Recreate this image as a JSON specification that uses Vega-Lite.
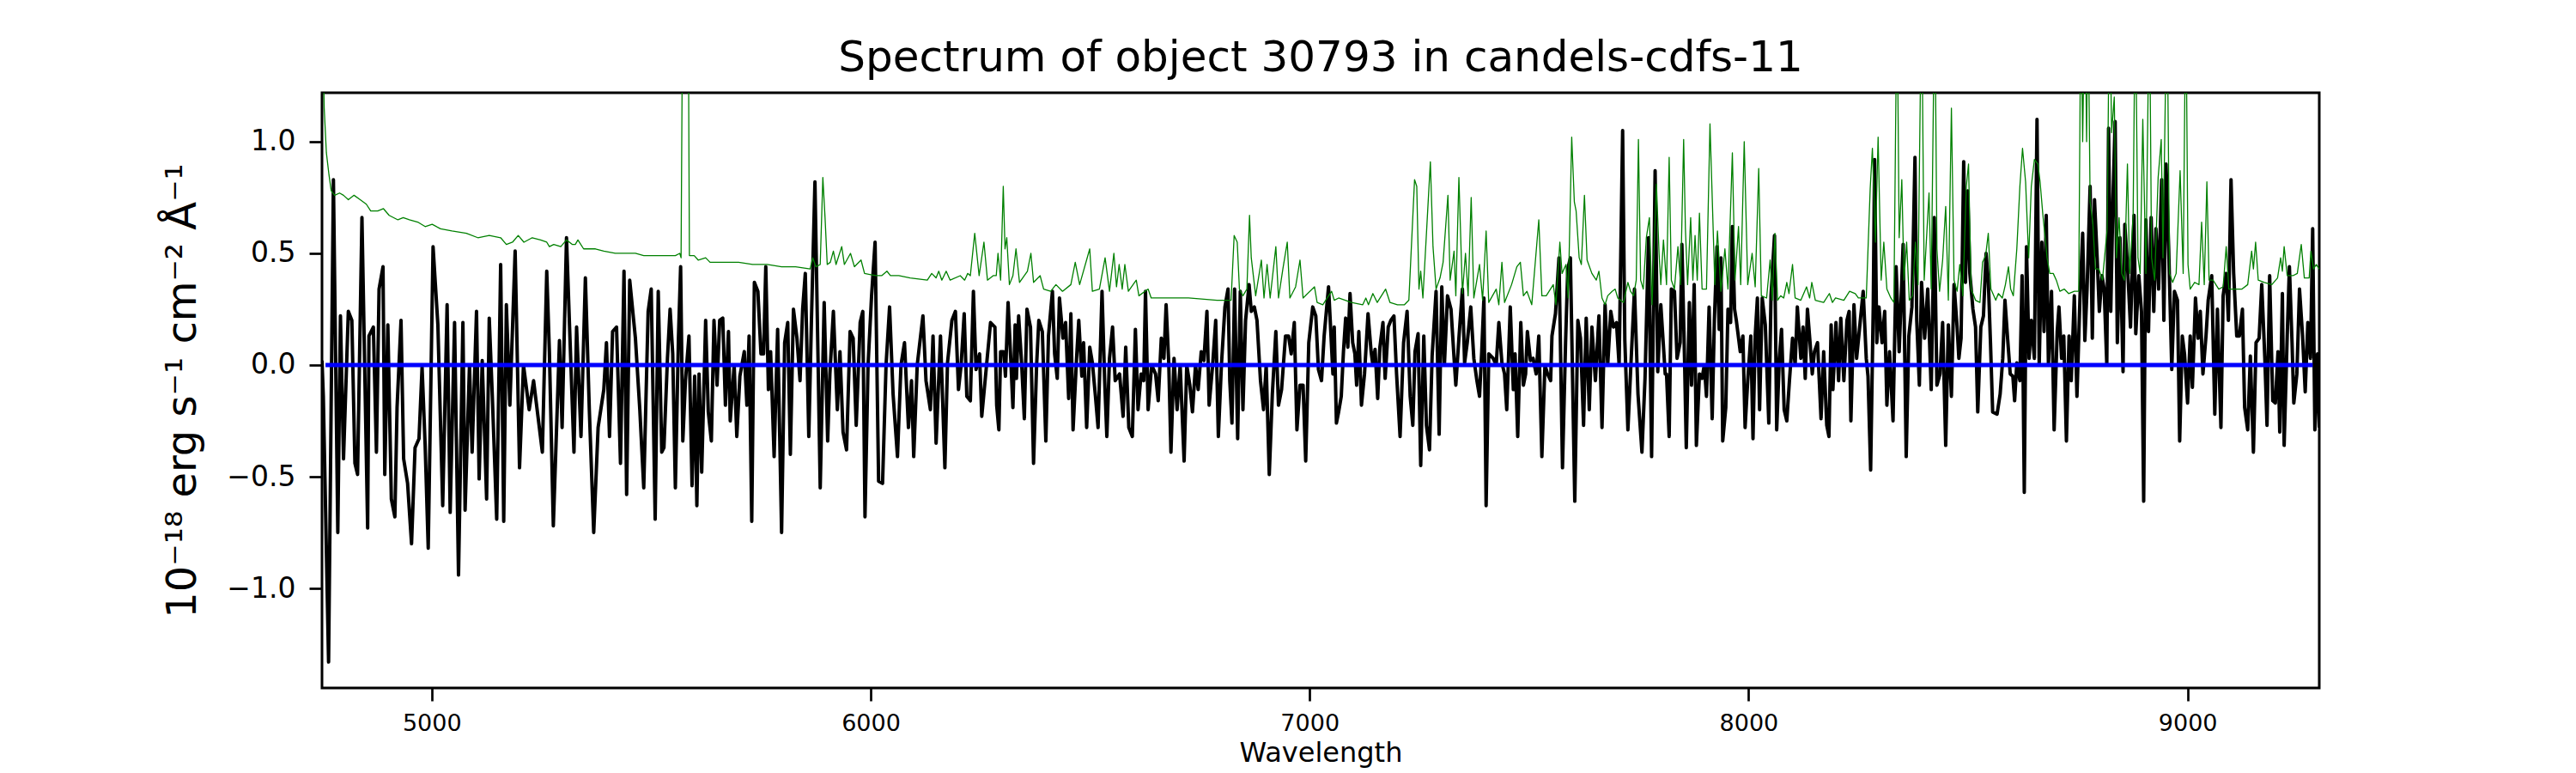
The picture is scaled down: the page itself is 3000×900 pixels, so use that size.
{
  "$schema": "https://vega.github.io/schema/vega-lite/v6.json",
  "width": 2326,
  "height": 693,
  "autosize": {"type": "none"},
  "padding": {"left": 375, "top": 108, "right": 299, "bottom": 99},
  "background": "white",
  "title": {
    "text": "Spectrum of object 30793 in candels-cdfs-11",
    "font": "DejaVu Sans",
    "fontSize": 50,
    "fontWeight": "normal",
    "color": "black",
    "anchor": "middle",
    "offset": 15
  },
  "config": {
    "view": {"stroke": "black", "strokeWidth": 3},
    "axis": {
      "grid": false,
      "domain": false,
      "labelFont": "DejaVu Sans",
      "titleFont": "DejaVu Sans",
      "labelColor": "black",
      "titleColor": "black",
      "tickColor": "black",
      "tickWidth": 2.7,
      "tickSize": 15,
      "titleFontWeight": "normal",
      "labelOverlap": false
    }
  },
  "datasets": {
    "flux": [
      {"w":4750,"v":0.02},{"w":4753,"v":-0.14},{"w":4765,"v":-1.33},{"w":4776,"v":0.83},{"w":4786,"v":-0.75},{"w":4792,"v":0.22},{"w":4799,"v":-0.42},{"w":4810,"v":0.24},{"w":4818,"v":0.20},{"w":4825,"v":-0.44},{"w":4831,"v":-0.49},{"w":4841,"v":0.66},{"w":4854,"v":-0.73},{"w":4857,"v":0.13},{"w":4867,"v":0.17},{"w":4874,"v":-0.39},{"w":4880,"v":0.34},{"w":4889,"v":0.44},{"w":4893,"v":-0.49},{"w":4900,"v":0.18},{"w":4908,"v":-0.60},{"w":4916,"v":-0.68},{"w":4921,"v":-0.19},{"w":4930,"v":0.20},{"w":4936,"v":-0.42},{"w":4945,"v":-0.53},{"w":4954,"v":-0.80},{"w":4962,"v":-0.37},{"w":4971,"v":-0.33},{"w":4978,"v":-0.01},{"w":4985,"v":-0.36},{"w":4992,"v":-0.82},{"w":5003,"v":0.53},{"w":5014,"v":0.18},{"w":5025,"v":-0.63},{"w":5035,"v":0.27},{"w":5042,"v":-0.66},{"w":5052,"v":0.19},{"w":5061,"v":-0.94},{"w":5071,"v":0.19},{"w":5076,"v":-0.65},{"w":5086,"v":0.00},{"w":5092,"v":-0.39},{"w":5102,"v":0.24},{"w":5108,"v":-0.51},{"w":5115,"v":0.02},{"w":5125,"v":-0.60},{"w":5131,"v":0.21},{"w":5138,"v":-0.14},{"w":5148,"v":-0.69},{"w":5157,"v":0.45},{"w":5164,"v":-0.70},{"w":5170,"v":0.27},{"w":5178,"v":-0.18},{"w":5190,"v":0.51},{"w":5200,"v":-0.46},{"w":5209,"v":0.00},{"w":5222,"v":-0.20},{"w":5232,"v":-0.07},{"w":5242,"v":-0.23},{"w":5252,"v":-0.39},{"w":5262,"v":0.42},{"w":5268,"v":0.06},{"w":5277,"v":-0.72},{"w":5291,"v":0.11},{"w":5297,"v":-0.28},{"w":5307,"v":0.57},{"w":5314,"v":0.17},{"w":5324,"v":-0.39},{"w":5330,"v":0.17},{"w":5340,"v":-0.32},{"w":5350,"v":0.39},{"w":5359,"v":-0.20},{"w":5369,"v":-0.75},{"w":5379,"v":-0.28},{"w":5392,"v":-0.11},{"w":5398,"v":0.10},{"w":5405,"v":-0.32},{"w":5412,"v":0.15},{"w":5421,"v":0.17},{"w":5430,"v":-0.44},{"w":5438,"v":0.42},{"w":5444,"v":-0.58},{"w":5451,"v":0.38},{"w":5464,"v":0.12},{"w":5474,"v":-0.20},{"w":5483,"v":-0.55},{"w":5493,"v":0.24},{"w":5500,"v":0.34},{"w":5509,"v":-0.69},{"w":5516,"v":0.33},
      {"w":5524,"v":-0.39},{"w":5529,"v":-0.37},{"w":5537,"v":0.03},{"w":5543,"v":0.25},{"w":5549,"v":0.05},{"w":5555,"v":-0.55},{"w":5562,"v":0.12},{"w":5567,"v":0.44},{"w":5572,"v":-0.34},{"w":5578,"v":-0.07},{"w":5586,"v":0.13},{"w":5593,"v":-0.54},{"w":5599,"v":-0.05},{"w":5604,"v":-0.63},{"w":5609,"v":-0.04},{"w":5615,"v":-0.48},{"w":5624,"v":0.20},{"w":5630,"v":-0.21},{"w":5637,"v":-0.34},{"w":5643,"v":0.20},{"w":5650,"v":-0.09},{"w":5656,"v":0.20},{"w":5663,"v":0.21},{"w":5669,"v":-0.18},{"w":5676,"v":0.15},{"w":5680,"v":-0.25},{"w":5689,"v":0.00},{"w":5695,"v":-0.32},{"w":5702,"v":-0.05},{"w":5712,"v":0.06},{"w":5718,"v":-0.18},{"w":5723,"v":0.13},{"w":5729,"v":-0.70},{"w":5735,"v":0.37},{"w":5743,"v":0.33},{"w":5750,"v":0.05},{"w":5756,"v":0.05},{"w":5761,"v":0.44},{"w":5767,"v":-0.11},{"w":5772,"v":0.06},{"w":5780,"v":-0.41},{"w":5788,"v":0.16},{"w":5797,"v":-0.75},{"w":5804,"v":0.10},{"w":5811,"v":0.19},{"w":5817,"v":-0.40},{"w":5824,"v":0.25},{"w":5832,"v":0.12},{"w":5839,"v":-0.07},{"w":5845,"v":0.25},{"w":5851,"v":0.41},{"w":5859,"v":-0.32},{"w":5865,"v":0.20},{"w":5873,"v":0.82},{"w":5880,"v":0.03},{"w":5885,"v":-0.55},{"w":5894,"v":0.28},{"w":5902,"v":-0.34},{"w":5907,"v":-0.04},{"w":5915,"v":0.24},{"w":5924,"v":-0.20},{"w":5930,"v":0.06},{"w":5937,"v":-0.30},{"w":5945,"v":-0.38},{"w":5953,"v":0.15},{"w":5960,"v":0.12},{"w":5967,"v":-0.27},{"w":5976,"v":0.19},{"w":5982,"v":0.24},{"w":5987,"v":-0.68},{"w":5994,"v":0.00},{"w":6002,"v":0.31},{"w":6010,"v":0.55},{"w":6018,"v":-0.52},{"w":6027,"v":-0.53},{"w":6035,"v":0.00},{"w":6043,"v":0.26},{"w":6051,"v":-0.13},{"w":6061,"v":-0.41},{"w":6069,"v":0.00},{"w":6077,"v":0.10},{"w":6086,"v":-0.28},{"w":6093,"v":-0.07},{"w":6098,"v":-0.41},{"w":6106,"v":0.00},{"w":6119,"v":0.22},{"w":6126,"v":-0.07},{"w":6136,"v":-0.20},{"w":6142,"v":0.13},{"w":6149,"v":-0.35},{"w":6159,"v":0.13},{"w":6169,"v":-0.46},{"w":6175,"v":0.01},{"w":6185,"v":0.20},{"w":6193,"v":0.24},{"w":6200,"v":-0.11},{"w":6206,"v":0.00},{"w":6213,"v":0.23},{"w":6219,"v":-0.14},{"w":6227,"v":-0.16},{"w":6234,"v":0.33},{"w":6240,"v":-0.02},{"w":6248,"v":0.05},{"w":6253,"v":-0.23},{"w":6263,"v":-0.02},{"w":6273,"v":0.19},{"w":6283,"v":0.17},
      {"w":6287,"v":-0.18},{"w":6292,"v":-0.29},{"w":6296,"v":0.06},{"w":6303,"v":0.06},{"w":6307,"v":-0.05},{"w":6313,"v":0.28},{"w":6319,"v":0.03},{"w":6324,"v":-0.19},{"w":6329,"v":0.18},{"w":6332,"v":-0.06},{"w":6337,"v":0.22},{"w":6344,"v":0.00},{"w":6350,"v":-0.24},{"w":6356,"v":0.25},{"w":6364,"v":0.17},{"w":6371,"v":-0.44},{"w":6378,"v":0.00},{"w":6383,"v":0.20},{"w":6391,"v":0.15},{"w":6399,"v":-0.34},{"w":6405,"v":0.13},{"w":6414,"v":0.33},{"w":6419,"v":0.05},{"w":6425,"v":-0.06},{"w":6430,"v":0.30},{"w":6438,"v":0.12},{"w":6444,"v":0.19},{"w":6451,"v":-0.15},{"w":6456,"v":0.23},{"w":6461,"v":-0.29},{"w":6469,"v":0.03},{"w":6474,"v":0.20},{"w":6481,"v":-0.05},{"w":6485,"v":0.10},{"w":6492,"v":-0.28},{"w":6499,"v":0.08},{"w":6505,"v":0.01},{"w":6512,"v":-0.14},{"w":6518,"v":-0.28},{"w":6527,"v":0.33},{"w":6533,"v":-0.07},{"w":6538,"v":-0.32},{"w":6544,"v":0.03},{"w":6551,"v":0.17},{"w":6557,"v":-0.07},{"w":6567,"v":-0.04},{"w":6575,"v":-0.23},{"w":6581,"v":0.08},{"w":6588,"v":-0.28},{"w":6596,"v":-0.32},{"w":6603,"v":0.16},{"w":6609,"v":-0.20},{"w":6616,"v":-0.04},{"w":6622,"v":-0.07},{"w":6626,"v":0.33},{"w":6632,"v":-0.20},{"w":6640,"v":0.00},{"w":6649,"v":-0.04},{"w":6655,"v":-0.16},{"w":6662,"v":0.12},{"w":6668,"v":0.03},{"w":6673,"v":0.27},{"w":6679,"v":0.01},{"w":6684,"v":-0.39},{"w":6691,"v":0.03},{"w":6698,"v":-0.20},{"w":6705,"v":0.00},{"w":6714,"v":-0.43},{"w":6720,"v":0.00},{"w":6727,"v":-0.09},{"w":6733,"v":-0.21},{"w":6740,"v":0.00},{"w":6746,"v":-0.11},{"w":6753,"v":0.06},{"w":6759,"v":0.02},{"w":6766,"v":0.24},{"w":6771,"v":-0.18},{"w":6779,"v":0.00},{"w":6786,"v":0.20},{"w":6792,"v":-0.32},{"w":6799,"v":0.00},{"w":6807,"v":0.26},{"w":6814,"v":0.34},{"w":6818,"v":-0.07},{"w":6823,"v":-0.26},{"w":6829,"v":0.34},{"w":6836,"v":-0.33},{"w":6842,"v":0.33},{"w":6848,"v":-0.20},{"w":6854,"v":0.20},{"w":6862,"v":0.36},{"w":6867,"v":0.24},{"w":6874,"v":0.26},{"w":6880,"v":0.20},{"w":6888,"v":-0.07},{"w":6895,"v":-0.20},{"w":6901,"v":0.00},{"w":6908,"v":-0.49},{"w":6915,"v":-0.13},{"w":6923,"v":0.15},{"w":6929,"v":-0.18},{"w":6936,"v":-0.11},{"w":6945,"v":0.13},{"w":6952,"v":0.13},{"w":6958,"v":0.05},{"w":6965,"v":0.19},{"w":6971,"v":-0.29},{"w":6978,"v":-0.09},{"w":6985,"v":-0.09},{"w":6991,"v":-0.43},{"w":6998,"v":0.10},{"w":7007,"v":0.26},{"w":7014,"v":0.22},{"w":7020,"v":-0.02},{"w":7027,"v":-0.07},{"w":7033,"v":0.13},{"w":7043,"v":0.35},
      {"w":7053,"v":-0.04},{"w":7056,"v":0.17},{"w":7061,"v":-0.26},{"w":7066,"v":-0.21},{"w":7072,"v":-0.14},{"w":7077,"v":0.06},{"w":7082,"v":0.21},{"w":7087,"v":0.08},{"w":7092,"v":0.32},{"w":7098,"v":0.10},{"w":7103,"v":0.05},{"w":7107,"v":-0.09},{"w":7112,"v":0.15},{"w":7118,"v":-0.18},{"w":7125,"v":-0.04},{"w":7133,"v":0.23},{"w":7140,"v":0.06},{"w":7144,"v":0.00},{"w":7149,"v":0.07},{"w":7155,"v":-0.15},{"w":7160,"v":0.08},{"w":7167,"v":0.19},{"w":7172,"v":-0.06},{"w":7179,"v":0.17},{"w":7185,"v":0.20},{"w":7192,"v":0.22},{"w":7198,"v":-0.04},{"w":7206,"v":-0.32},{"w":7214,"v":0.10},{"w":7222,"v":0.24},{"w":7229,"v":-0.14},{"w":7235,"v":-0.27},{"w":7240,"v":0.06},{"w":7247,"v":0.14},{"w":7253,"v":-0.45},{"w":7260,"v":0.13},{"w":7266,"v":-0.27},{"w":7273,"v":-0.38},{"w":7279,"v":0.04},{"w":7288,"v":0.33},{"w":7295,"v":-0.31},{"w":7301,"v":0.35},{"w":7307,"v":0.00},{"w":7314,"v":0.31},{"w":7322,"v":0.25},{"w":7329,"v":0.03},{"w":7333,"v":-0.09},{"w":7340,"v":0.12},{"w":7348,"v":0.34},{"w":7353,"v":0.01},{"w":7359,"v":0.10},{"w":7367,"v":0.26},{"w":7374,"v":0.03},{"w":7381,"v":-0.07},{"w":7387,"v":-0.14},{"w":7392,"v":0.06},{"w":7397,"v":0.30},{"w":7402,"v":-0.63},{"w":7408,"v":0.05},{"w":7418,"v":0.03},{"w":7425,"v":0.00},{"w":7431,"v":0.19},{"w":7438,"v":0.01},{"w":7444,"v":-0.04},{"w":7449,"v":-0.20},{"w":7457,"v":0.26},{"w":7464,"v":-0.11},{"w":7468,"v":0.05},{"w":7474,"v":-0.32},{"w":7481,"v":0.19},{"w":7487,"v":-0.09},{"w":7492,"v":-0.04},{"w":7496,"v":0.15},{"w":7503,"v":0.02},{"w":7509,"v":0.03},{"w":7516,"v":-0.04},{"w":7522,"v":0.13},{"w":7529,"v":-0.41},{"w":7536,"v":0.00},{"w":7542,"v":-0.04},{"w":7549,"v":-0.07},{"w":7552,"v":0.13},{"w":7560,"v":0.23},{"w":7568,"v":0.48},{"w":7576,"v":-0.46},{"w":7583,"v":0.10},{"w":7588,"v":0.43},{"w":7594,"v":0.48},{"w":7604,"v":-0.61},{"w":7611,"v":0.20},{"w":7617,"v":0.12},{"w":7624,"v":-0.27},{"w":7630,"v":0.21},{"w":7637,"v":-0.20},{"w":7643,"v":0.17},{"w":7651,"v":-0.07},{"w":7659,"v":0.22},{"w":7666,"v":-0.28},{"w":7673,"v":0.27},{"w":7679,"v":0.00},{"w":7686,"v":0.24},{"w":7692,"v":0.17},{"w":7699,"v":0.19},{"w":7705,"v":0.00},{"w":7713,"v":1.05},{"w":7718,"v":0.11},{"w":7725,"v":-0.29},{"w":7733,"v":0.05},{"w":7740,"v":0.34},{"w":7748,"v":-0.13},{"w":7757,"v":-0.39},{"w":7764,"v":-0.06},{"w":7772,"v":0.57},{"w":7779,"v":-0.41},{"w":7787,"v":0.87},{"w":7793,"v":-0.03},{"w":7800,"v":0.27},{"w":7810,"v":-0.04},
      {"w":7813,"v":-0.04},{"w":7819,"v":-0.32},{"w":7824,"v":0.34},{"w":7831,"v":0.33},{"w":7837,"v":0.03},{"w":7844,"v":0.10},{"w":7848,"v":0.54},{"w":7854,"v":0.03},{"w":7858,"v":-0.37},{"w":7865,"v":0.28},{"w":7870,"v":-0.09},{"w":7876,"v":0.36},{"w":7881,"v":-0.36},{"w":7888,"v":-0.04},{"w":7894,"v":-0.06},{"w":7899,"v":0.00},{"w":7904,"v":-0.14},{"w":7910,"v":0.26},{"w":7917,"v":-0.24},{"w":7922,"v":0.20},{"w":7928,"v":0.53},{"w":7933,"v":0.16},{"w":7937,"v":0.48},{"w":7941,"v":-0.34},{"w":7948,"v":-0.19},{"w":7953,"v":0.25},{"w":7959,"v":0.19},{"w":7963,"v":0.62},{"w":7968,"v":0.25},{"w":7972,"v":0.20},{"w":7981,"v":0.06},{"w":7987,"v":0.13},{"w":7992,"v":-0.28},{"w":7998,"v":-0.07},{"w":8005,"v":0.13},{"w":8010,"v":-0.33},{"w":8015,"v":0.13},{"w":8020,"v":0.30},{"w":8025,"v":-0.20},{"w":8031,"v":0.30},{"w":8038,"v":0.18},{"w":8046,"v":-0.26},{"w":8051,"v":0.31},{"w":8059,"v":0.58},{"w":8064,"v":-0.29},{"w":8070,"v":0.03},{"w":8075,"v":0.16},{"w":8081,"v":-0.20},{"w":8087,"v":-0.25},{"w":8093,"v":-0.07},{"w":8100,"v":0.12},{"w":8106,"v":0.00},{"w":8111,"v":0.26},{"w":8119,"v":0.03},{"w":8124,"v":0.17},{"w":8129,"v":-0.06},{"w":8134,"v":0.25},{"w":8140,"v":0.10},{"w":8145,"v":-0.04},{"w":8150,"v":0.06},{"w":8157,"v":0.10},{"w":8165,"v":-0.24},{"w":8171,"v":0.06},{"w":8178,"v":-0.27},{"w":8183,"v":-0.32},{"w":8188,"v":0.18},{"w":8192,"v":-0.11},{"w":8199,"v":0.19},{"w":8205,"v":-0.07},{"w":8210,"v":0.21},{"w":8217,"v":-0.07},{"w":8224,"v":0.20},{"w":8229,"v":0.24},{"w":8233,"v":-0.25},{"w":8240,"v":0.27},{"w":8246,"v":0.03},{"w":8253,"v":0.17},{"w":8261,"v":0.33},{"w":8268,"v":0.03},{"w":8272,"v":-0.05},{"w":8278,"v":-0.47},{"w":8284,"v":0.27},{"w":8287,"v":0.92},{"w":8292,"v":0.10},{"w":8297,"v":0.26},{"w":8304,"v":0.10},{"w":8310,"v":0.24},{"w":8315,"v":-0.18},{"w":8321,"v":0.06},{"w":8329,"v":-0.25},{"w":8336,"v":0.44},{"w":8343,"v":0.06},{"w":8352,"v":0.54},{"w":8359,"v":-0.41},{"w":8365,"v":0.13},{"w":8372,"v":0.26},{"w":8379,"v":0.93},{"w":8383,"v":0.20},{"w":8389,"v":-0.09},{"w":8394,"v":0.37},{"w":8401,"v":0.12},{"w":8408,"v":0.34},{"w":8416,"v":-0.11},{"w":8423,"v":0.66},{"w":8429,"v":-0.09},{"w":8436,"v":-0.04},{"w":8442,"v":0.19},{"w":8449,"v":-0.36},{"w":8455,"v":0.18},{"w":8462,"v":-0.14},{"w":8468,"v":0.36},{"w":8475,"v":0.17},{"w":8479,"v":0.03},{"w":8484,"v":0.12},{"w":8490,"v":0.91},{"w":8494,"v":0.37},{"w":8499,"v":0.78},{"w":8504,"v":0.41},{"w":8511,"v":0.25},{"w":8517,"v":0.17},{"w":8522,"v":-0.21},{"w":8529,"v":0.17},{"w":8535,"v":0.22},{"w":8541,"v":0.50},{"w":8546,"v":0.38},{"w":8551,"v":0.10},{"w":8556,"v":-0.21},{"w":8566,"v":-0.22},{"w":8573,"v":-0.13},
      {"w":8579,"v":0.03},{"w":8584,"v":0.29},{"w":8590,"v":0.12},{"w":8596,"v":-0.04},{"w":8602,"v":-0.05},{"w":8606,"v":-0.16},{"w":8611,"v":0.01},{"w":8618,"v":-0.07},{"w":8623,"v":0.40},{"w":8628,"v":-0.57},{"w":8633,"v":0.53},{"w":8639,"v":0.03},{"w":8644,"v":0.20},{"w":8651,"v":0.03},{"w":8657,"v":1.10},{"w":8662,"v":0.00},{"w":8668,"v":0.55},{"w":8673,"v":0.15},{"w":8678,"v":0.67},{"w":8683,"v":0.00},{"w":8690,"v":0.33},{"w":8696,"v":-0.29},{"w":8703,"v":0.15},{"w":8707,"v":0.26},{"w":8713,"v":0.03},{"w":8718,"v":0.13},{"w":8724,"v":-0.34},{"w":8730,"v":0.13},{"w":8735,"v":-0.07},{"w":8742,"v":0.31},{"w":8748,"v":-0.14},{"w":8755,"v":0.31},{"w":8761,"v":0.59},{"w":8766,"v":0.11},{"w":8771,"v":0.34},{"w":8778,"v":0.80},{"w":8783,"v":0.12},{"w":8788,"v":0.74},{"w":8794,"v":0.48},{"w":8799,"v":0.24},{"w":8805,"v":0.40},{"w":8810,"v":0.34},{"w":8816,"v":0.00},{"w":8820,"v":1.06},{"w":8825,"v":0.24},{"w":8830,"v":0.74},{"w":8835,"v":1.09},{"w":8840,"v":0.10},{"w":8846,"v":0.57},{"w":8853,"v":-0.03},{"w":8857,"v":0.63},{"w":8864,"v":0.41},{"w":8870,"v":0.17},{"w":8878,"v":0.67},{"w":8882,"v":0.14},{"w":8889,"v":0.40},{"w":8895,"v":0.24},{"w":8900,"v":-0.61},{"w":8905,"v":0.65},{"w":8911,"v":0.15},{"w":8917,"v":0.66},{"w":8923,"v":0.24},{"w":8928,"v":0.61},{"w":8934,"v":0.34},{"w":8941,"v":0.83},{"w":8946,"v":0.20},{"w":8951,"v":0.90},{"w":8957,"v":0.52},{"w":8964,"v":-0.02},{"w":8970,"v":0.33},{"w":8977,"v":0.29},{"w":8982,"v":-0.34},{"w":8988,"v":0.13},{"w":8993,"v":0.05},{"w":9000,"v":-0.17},{"w":9006,"v":0.13},{"w":9011,"v":-0.10},{"w":9018,"v":0.30},{"w":9024,"v":0.12},{"w":9029,"v":0.24},{"w":9035,"v":-0.04},{"w":9042,"v":0.13},{"w":9047,"v":0.29},{"w":9055,"v":0.40},{"w":9062,"v":-0.22},{"w":9068,"v":0.25},{"w":9076,"v":-0.28},{"w":9081,"v":0.31},{"w":9088,"v":0.41},{"w":9093,"v":0.20},{"w":9099,"v":0.83},{"w":9105,"v":0.41},{"w":9112,"v":0.13},{"w":9118,"v":0.13},{"w":9125,"v":0.25},{"w":9130,"v":-0.19},{"w":9137,"v":-0.29},{"w":9143,"v":0.04},{"w":9150,"v":-0.39},{"w":9156,"v":0.10},{"w":9163,"v":0.12},{"w":9169,"v":0.36},{"w":9176,"v":0.03},{"w":9181,"v":-0.27},{"w":9187,"v":0.40},{"w":9194,"v":-0.16},{"w":9200,"v":-0.17},{"w":9206,"v":0.06},{"w":9210,"v":-0.30},{"w":9216,"v":0.32},{"w":9220,"v":-0.36},{"w":9227,"v":0.13},{"w":9232,"v":0.44},{"w":9238,"v":0.10},{"w":9242,"v":-0.17},{"w":9249,"v":-0.04},{"w":9255,"v":0.34},{"w":9262,"v":0.13},{"w":9268,"v":-0.12},{"w":9274,"v":0.19},{"w":9280,"v":0.03},{"w":9285,"v":0.61},{"w":9290,"v":-0.29},{"w":9296,"v":0.05},{"w":9300,"v":-0.28}
    ],
    "err": [
      {"w":4750,"v":1.7},{"w":4755,"v":1.15},{"w":4760,"v":0.95},{"w":4766,"v":0.85},{"w":4771,"v":0.78},{"w":4779,"v":0.76},{"w":4790,"v":0.77},{"w":4799,"v":0.76},{"w":4810,"v":0.74},{"w":4823,"v":0.76},{"w":4837,"v":0.74},{"w":4851,"v":0.72},{"w":4861,"v":0.69},{"w":4877,"v":0.69},{"w":4890,"v":0.70},{"w":4903,"v":0.67},{"w":4923,"v":0.65},{"w":4935,"v":0.66},{"w":4949,"v":0.65},{"w":4968,"v":0.64},{"w":4985,"v":0.62},{"w":5001,"v":0.63},{"w":5020,"v":0.61},{"w":5046,"v":0.60},{"w":5079,"v":0.59},{"w":5105,"v":0.57},{"w":5131,"v":0.58},{"w":5157,"v":0.57},{"w":5170,"v":0.54},{"w":5184,"v":0.55},{"w":5197,"v":0.58},{"w":5210,"v":0.55},{"w":5229,"v":0.57},{"w":5248,"v":0.56},{"w":5262,"v":0.55},{"w":5268,"v":0.53},{"w":5278,"v":0.54},{"w":5294,"v":0.53},{"w":5307,"v":0.56},{"w":5320,"v":0.54},{"w":5327,"v":0.54},{"w":5333,"v":0.56},{"w":5346,"v":0.52},{"w":5373,"v":0.52},{"w":5392,"v":0.51},{"w":5418,"v":0.50},{"w":5444,"v":0.50},{"w":5464,"v":0.50},{"w":5483,"v":0.49},{"w":5503,"v":0.49},{"w":5529,"v":0.49},{"w":5555,"v":0.49},{"w":5565,"v":0.50},{"w":5568,"v":0.48},{"w":5572,"v":1.8},{"w":5584,"v":1.8},{"w":5587,"v":0.49},{"w":5598,"v":0.49},{"w":5607,"v":0.47},{"w":5624,"v":0.48},{"w":5634,"v":0.46},{"w":5666,"v":0.46},{"w":5699,"v":0.46},{"w":5731,"v":0.45},{"w":5764,"v":0.45},{"w":5797,"v":0.44},{"w":5829,"v":0.44},{"w":5862,"v":0.43},{"w":5868,"v":0.48},{"w":5875,"v":0.44},{"w":5885,"v":0.45},{"w":5891,"v":0.84},{"w":5896,"v":0.66},{"w":5901,"v":0.45},{"w":5908,"v":0.46},{"w":5915,"v":0.51},{"w":5921,"v":0.45},{"w":5934,"v":0.53},{"w":5940,"v":0.45},{"w":5954,"v":0.50},{"w":5963,"v":0.44},{"w":5978,"v":0.47},{"w":5986,"v":0.41},{"w":6012,"v":0.40},{"w":6025,"v":0.40},{"w":6037,"v":0.42},{"w":6045,"v":0.40},{"w":6064,"v":0.40},{"w":6090,"v":0.39},{"w":6129,"v":0.38},{"w":6139,"v":0.41},{"w":6149,"v":0.39},{"w":6155,"v":0.42},{"w":6162,"v":0.38},{"w":6172,"v":0.42},{"w":6181,"v":0.38},{"w":6204,"v":0.40},{"w":6214,"v":0.38},{"w":6221,"v":0.41},{"w":6227,"v":0.40},{"w":6237,"v":0.59},{"w":6247,"v":0.40},{"w":6258,"v":0.55},{"w":6266,"v":0.38},{"w":6279,"v":0.40},{"w":6286,"v":0.40},{"w":6290,"v":0.50},{"w":6296,"v":0.38},{"w":6302,"v":0.80},{"w":6306,"v":0.52},{"w":6310,"v":0.57},{"w":6316,"v":0.36},{"w":6324,"v":0.40},{"w":6331,"v":0.52},{"w":6339,"v":0.37},{"w":6350,"v":0.40},{"w":6357,"v":0.42},{"w":6365,"v":0.50},{"w":6371,"v":0.37},{"w":6386,"v":0.40},{"w":6394,"v":0.34},{"w":6410,"v":0.33},{"w":6422,"v":0.36},{"w":6437,"v":0.33},{"w":6456,"v":0.36},{"w":6466,"v":0.46},{"w":6476,"v":0.36},{"w":6499,"v":0.52},{"w":6505,"v":0.33},{"w":6521,"v":0.34},{"w":6534,"v":0.48},{"w":6544,"v":0.33},{"w":6554,"v":0.50},{"w":6560,"v":0.35},{"w":6566,"v":0.45},{"w":6573,"v":0.34},{"w":6579,"v":0.45},{"w":6587,"v":0.33},{"w":6605,"v":0.38},{"w":6611,"v":0.31},{"w":6632,"v":0.34},{"w":6639,"v":0.30},{"w":6691,"v":0.30},{"w":6724,"v":0.30},{"w":6789,"v":0.29},{"w":6821,"v":0.29},{"w":6828,"v":0.58},{"w":6835,"v":0.55},{"w":6840,"v":0.34},{"w":6848,"v":0.31},{"w":6857,"v":0.34},{"w":6863,"v":0.67},{"w":6867,"v":0.48},{"w":6877,"v":0.31},{"w":6890,"v":0.47},{"w":6896,"v":0.30},{"w":6903,"v":0.45},{"w":6910,"v":0.30},{"w":6923,"v":0.53},{"w":6929,"v":0.30},{"w":6939,"v":0.43},{"w":6949,"v":0.55},{"w":6955,"v":0.30},{"w":6968,"v":0.35},{"w":6978,"v":0.47},{"w":6985,"v":0.30},{"w":7011,"v":0.35},{"w":7017,"v":0.28},{"w":7030,"v":0.27},{"w":7040,"v":0.30},{"w":7050,"v":0.33},{"w":7056,"v":0.29},{"w":7066,"v":0.30},{"w":7095,"v":0.28},{"w":7121,"v":0.27},{"w":7128,"v":0.30},{"w":7134,"v":0.27},{"w":7144,"v":0.32},{"w":7154,"v":0.28},{"w":7173,"v":0.34},{"w":7183,"v":0.28},{"w":7200,"v":0.27},{"w":7216,"v":0.27},{"w":7226,"v":0.29},{"w":7239,"v":0.83},{"w":7244,"v":0.80},{"w":7249,"v":0.34},{"w":7253,"v":0.42},{"w":7258,"v":0.30},{"w":7275,"v":0.91},{"w":7281,"v":0.53},{"w":7288,"v":0.34},{"w":7297,"v":0.39},{"w":7304,"v":0.46},{"w":7315,"v":0.76},{"w":7320,"v":0.38},{"w":7329,"v":0.51},{"w":7333,"v":0.31},{"w":7340,"v":0.84},{"w":7348,"v":0.32},{"w":7355,"v":0.50},{"w":7361,"v":0.31},{"w":7368,"v":0.75},{"w":7374,"v":0.30},{"w":7387,"v":0.45},{"w":7394,"v":0.29},{"w":7402,"v":0.60},{"w":7408,"v":0.28},{"w":7425,"v":0.34},{"w":7431,"v":0.27},{"w":7438,"v":0.46},{"w":7444,"v":0.28},{"w":7460,"v":0.36},{"w":7472,"v":0.44},{"w":7480,"v":0.46},{"w":7487,"v":0.31},{"w":7495,"v":0.33},{"w":7506,"v":0.27},{"w":7522,"v":0.65},{"w":7529,"v":0.31},{"w":7539,"v":0.31},{"w":7555,"v":0.36},{"w":7561,"v":0.27},{"w":7570,"v":0.55},{"w":7575,"v":0.41},{"w":7584,"v":0.45},{"w":7589,"v":0.30},{"w":7597,"v":1.02},{"w":7603,"v":0.73},{"w":7607,"v":0.69},{"w":7614,"v":0.48},{"w":7619,"v":0.45},{"w":7626,"v":0.76},{"w":7632,"v":0.47},{"w":7643,"v":0.41},{"w":7653,"v":0.38},{"w":7659,"v":0.42},{"w":7666,"v":0.30},{"w":7673,"v":0.27},{"w":7679,"v":0.31},{"w":7689,"v":0.33},{"w":7696,"v":0.34},{"w":7702,"v":0.30},{"w":7715,"v":0.28},{"w":7725,"v":0.37},{"w":7731,"v":0.33},{"w":7738,"v":0.31},{"w":7744,"v":0.38},{"w":7749,"v":1.01},{"w":7754,"v":0.38},{"w":7760,"v":0.34},{"w":7767,"v":0.57},{"w":7774,"v":0.66},{"w":7780,"v":0.27},{"w":7790,"v":0.81},{"w":7796,"v":0.50},{"w":7800,"v":0.36},{"w":7806,"v":0.56},{"w":7813,"v":0.36},{"w":7819,"v":0.93},{"w":7824,"v":0.38},{"w":7831,"v":0.34},{"w":7839,"v":0.53},{"w":7845,"v":0.36},{"w":7852,"v":1.01},{"w":7856,"v":0.61},{"w":7861,"v":0.36},{"w":7868,"v":0.66},{"w":7873,"v":0.38},{"w":7878,"v":0.58},{"w":7883,"v":0.38},{"w":7888,"v":0.68},{"w":7894,"v":0.34},{"w":7904,"v":0.34},{"w":7912,"v":1.08},{"w":7918,"v":0.69},{"w":7923,"v":0.36},{"w":7929,"v":0.60},{"w":7937,"v":0.33},{"w":7946,"v":0.52},{"w":7953,"v":0.34},{"w":7963,"v":0.95},{"w":7969,"v":0.38},{"w":7977,"v":0.62},{"w":7982,"v":0.36},{"w":7990,"v":1.00},{"w":7998,"v":0.36},{"w":8008,"v":0.50},{"w":8015,"v":0.35},{"w":8023,"v":0.88},{"w":8029,"v":0.31},{"w":8041,"v":0.30},{"w":8049,"v":0.47},{"w":8054,"v":0.29},{"w":8060,"v":0.59},{"w":8066,"v":0.29},{"w":8073,"v":0.31},{"w":8080,"v":0.30},{"w":8087,"v":0.37},{"w":8092,"v":0.32},{"w":8100,"v":0.45},{"w":8106,"v":0.30},{"w":8119,"v":0.29},{"w":8132,"v":0.35},{"w":8139,"v":0.30},{"w":8144,"v":0.37},{"w":8152,"v":0.29},{"w":8171,"v":0.28},{"w":8184,"v":0.32},{"w":8191,"v":0.28},{"w":8198,"v":0.30},{"w":8217,"v":0.29},{"w":8230,"v":0.33},{"w":8243,"v":0.32},{"w":8250,"v":0.30},{"w":8259,"v":0.30},{"w":8268,"v":0.30},{"w":8277,"v":0.79},{"w":8282,"v":0.97},{"w":8289,"v":0.55},{"w":8295,"v":1.02},{"w":8302,"v":0.38},{"w":8308,"v":0.55},{"w":8315,"v":0.34},{"w":8324,"v":0.30},{"w":8331,"v":0.28},{"w":8338,"v":1.7},{"w":8343,"v":0.57},{"w":8349,"v":0.83},{"w":8354,"v":0.38},{"w":8360,"v":0.55},{"w":8366,"v":0.29},{"w":8373,"v":0.31},{"w":8380,"v":0.55},{"w":8386,"v":0.36},{"w":8394,"v":1.7},{"w":8400,"v":0.38},{"w":8411,"v":0.77},{"w":8416,"v":0.34},{"w":8424,"v":1.7},{"w":8429,"v":0.52},{"w":8435,"v":0.33},{"w":8442,"v":0.47},{"w":8449,"v":0.71},{"w":8455,"v":0.29},{"w":8462,"v":1.15},{"w":8468,"v":0.38},{"w":8475,"v":0.33},{"w":8481,"v":0.45},{"w":8488,"v":0.31},{"w":8496,"v":0.80},{"w":8501,"v":0.90},{"w":8507,"v":0.34},{"w":8517,"v":0.29},{"w":8527,"v":0.28},{"w":8533,"v":0.46},{"w":8540,"v":0.49},{"w":8546,"v":0.59},{"w":8552,"v":0.34},{"w":8563,"v":0.29},{"w":8569,"v":0.32},{"w":8578,"v":0.30},{"w":8585,"v":0.36},{"w":8592,"v":0.44},{"w":8597,"v":0.34},{"w":8603,"v":0.31},{"w":8611,"v":0.52},{"w":8618,"v":0.80},{"w":8624,"v":0.97},{"w":8631,"v":0.82},{"w":8638,"v":0.48},{"w":8644,"v":0.80},{"w":8651,"v":0.92},{"w":8659,"v":0.90},{"w":8664,"v":0.82},{"w":8670,"v":0.68},{"w":8680,"v":0.48},{"w":8686,"v":0.41},{"w":8694,"v":0.41},{"w":8701,"v":0.38},{"w":8709,"v":0.33},{"w":8719,"v":0.34},{"w":8729,"v":0.32},{"w":8742,"v":0.33},{"w":8752,"v":0.33},{"w":8757,"v":1.7},{"w":8761,"v":1.00},{"w":8766,"v":1.7},{"w":8770,"v":1.0},{"w":8773,"v":1.7},{"w":8778,"v":0.73},{"w":8784,"v":0.64},{"w":8790,"v":0.43},{"w":8798,"v":0.43},{"w":8806,"v":0.38},{"w":8817,"v":0.61},{"w":8822,"v":1.7},{"w":8827,"v":1.04},{"w":8833,"v":1.2},{"w":8838,"v":0.48},{"w":8844,"v":0.66},{"w":8850,"v":0.41},{"w":8856,"v":0.38},{"w":8863,"v":0.90},{"w":8868,"v":0.41},{"w":8876,"v":0.67},{"w":8881,"v":1.7},{"w":8887,"v":0.48},{"w":8892,"v":0.41},{"w":8898,"v":1.10},{"w":8905,"v":0.41},{"w":8913,"v":1.7},{"w":8918,"v":0.48},{"w":8925,"v":0.38},{"w":8933,"v":0.84},{"w":8940,"v":1.01},{"w":8944,"v":0.48},{"w":8953,"v":1.7},{"w":8959,"v":0.41},{"w":8966,"v":0.37},{"w":8974,"v":0.41},{"w":8983,"v":0.87},{"w":8990,"v":0.41},{"w":8996,"v":1.7},{"w":9001,"v":0.45},{"w":9006,"v":0.34},{"w":9016,"v":0.37},{"w":9026,"v":0.36},{"w":9032,"v":0.64},{"w":9038,"v":0.36},{"w":9044,"v":0.82},{"w":9049,"v":0.38},{"w":9058,"v":0.38},{"w":9071,"v":0.34},{"w":9081,"v":0.35},{"w":9088,"v":0.53},{"w":9094,"v":0.34},{"w":9107,"v":0.34},{"w":9124,"v":0.34},{"w":9137,"v":0.36},{"w":9146,"v":0.51},{"w":9150,"v":0.43},{"w":9155,"v":0.55},{"w":9161,"v":0.38},{"w":9175,"v":0.37},{"w":9192,"v":0.36},{"w":9205,"v":0.39},{"w":9212,"v":0.48},{"w":9216,"v":0.42},{"w":9220,"v":0.53},{"w":9227,"v":0.40},{"w":9240,"v":0.40},{"w":9250,"v":0.41},{"w":9259,"v":0.54},{"w":9266,"v":0.39},{"w":9277,"v":0.39},{"w":9281,"v":0.51},{"w":9287,"v":0.43},{"w":9293,"v":0.45},{"w":9300,"v":0.43}
    ],
    "zero": [
      {"w":4758,"v":0},{"w":9285,"v":0}
    ]
  },
  "encoding": {
    "x": {
      "field": "w",
      "type": "quantitative",
      "scale": {"domain": [4750, 9300], "nice": false, "zero": false},
      "axis": {
        "title": "Wavelength",
        "titleFontSize": 32,
        "labelFontSize": 27,
        "values": [5000, 6000, 7000, 8000, 9000],
        "format": "d",
        "labelPadding": 13,
        "titlePadding": 6,
        "labelFlush": false
      }
    },
    "y": {
      "field": "v",
      "type": "quantitative",
      "scale": {"domain": [-1.446, 1.219], "nice": false, "zero": false},
      "axis": {
        "title": "10⁻¹⁸ erg s⁻¹ cm⁻² Å⁻¹",
        "titleFontSize": 48,
        "labelFontSize": 33,
        "values": [-1, -0.5, 0, 0.5, 1],
        "format": ".1f",
        "labelPadding": 16,
        "titlePadding": 26
      }
    }
  },
  "layer": [
    {
      "data": {"name": "flux"},
      "mark": {"type": "line", "color": "black", "strokeWidth": 4, "strokeJoin": "round", "clip": true}
    },
    {
      "data": {"name": "err"},
      "mark": {"type": "line", "color": "#008000", "strokeWidth": 1.3, "strokeJoin": "round", "clip": true}
    },
    {
      "data": {"name": "zero"},
      "mark": {"type": "line", "color": "#0000ff", "strokeWidth": 5, "clip": true}
    }
  ]
}
